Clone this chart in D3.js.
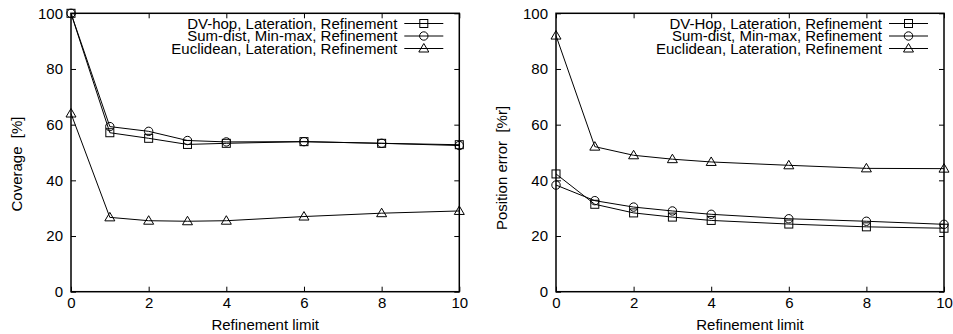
<!DOCTYPE html>
<html>
<head>
<meta charset="utf-8">
<script src="https://cdn.jsdelivr.net/npm/d3@7"></script>
<style>
  body { margin: 0; background: #fff; }
  svg text { font-family: "Liberation Sans", Arial, sans-serif; }
</style>
</head>
<body>
<div id="chart"></div>
<script>
/* DATA */
const limits = [0, 1, 2, 3, 4, 6, 8, 10];
const xTicks = [0, 2, 4, 6, 8, 10];
const yTicks = [0, 20, 40, 60, 80, 100];

// coverage [%]
const covDvhop = [100, 57.1, 55.1, 52.9, 53.3, 53.9, 53.3, 52.8];
const covSumdist = [100, 59.3, 57.6, 54.3, 53.8, 53.9, 53.3, 52.5];
const covEuclid = [64, 26.7, 25.5, 25.3, 25.5, 27.0, 28.2, 29.0];

// position error [%r]
const errDvhop = [42.3, 31.4, 28.3, 26.8, 25.6, 24.3, 23.3, 22.8];
const errSumdist = [38.3, 32.7, 30.4, 29.0, 27.8, 26.2, 25.3, 24.2];
const errEuclid = [92, 52.1, 49.0, 47.6, 46.6, 45.4, 44.3, 44.2];

const legendLeft = ["DV-hop, Lateration, Refinement", "Sum-dist, Min-max, Refinement", "Euclidean, Lateration, Refinement"];
const legendRight = ["DV-Hop, Lateration, Refinement", "Sum-dist, Min-max, Refinement", "Euclidean, Lateration, Refinement"];
const markers = ["square", "circle", "triangle"];

/* CONSTANTS */
const width = 953, height = 334;
const plotTop = 13.3, plotBottom = 291.7;

const svg = d3.select("#chart").append("svg")
  .attr("width", width)
  .attr("height", height);

function marker(g, type, x, y) {
  if (type === "square") {
    g.append("rect").attr("x", x - 4).attr("y", y - 4).attr("width", 8).attr("height", 8);
  } else if (type === "circle") {
    g.append("circle").attr("cx", x).attr("cy", y).attr("r", 4.2);
  } else {
    g.append("path").attr("d", `M${x},${y - 5}L${x + 5},${y + 3.5}L${x - 5},${y + 3.5}Z`);
  }
}

function panel(left, right, series, legend, ylabel, ylabelY) {
  const x = d3.scaleLinear().domain([0, 10]).range([left, right]);
  const y = d3.scaleLinear().domain([0, 100]).range([plotBottom, plotTop]);
  const g = svg.append("g");

  // axes with inward ticks on all four sides
  const ax = [
    [d3.axisBottom(x).tickValues(xTicks).tickSize(-5).tickPadding(6), `translate(0,${plotBottom})`],
    [d3.axisTop(x).tickValues(xTicks).tickSize(-5).tickFormat(""), `translate(0,${plotTop})`],
    [d3.axisLeft(y).tickValues(yTicks).tickSize(-5).tickPadding(8), `translate(${left},0)`],
    [d3.axisRight(y).tickValues(yTicks).tickSize(-5).tickFormat(""), `translate(${right},0)`]
  ];
  ax.forEach(([axis, tr]) => {
    const a = g.append("g").attr("transform", tr).call(axis.tickSizeOuter(0));
    a.select(".domain").remove();
    a.selectAll("line").attr("stroke", "#000").attr("stroke-width", 1);
    a.selectAll("text").attr("font-size", 15).attr("fill", "#000")
      .attr("font-family", "Liberation Sans, Arial, sans-serif");
  });

  g.append("rect")
    .attr("x", left).attr("y", plotTop)
    .attr("width", right - left).attr("height", plotBottom - plotTop)
    .attr("fill", "none").attr("stroke", "#000").attr("stroke-width", 1.5);

  const line = d3.line().x((d, i) => x(limits[i])).y(d => y(d));

  series.forEach((vals, k) => {
    g.append("path").datum(vals)
      .attr("d", line)
      .attr("fill", "none").attr("stroke", "#000").attr("stroke-width", 1);
    const mg = g.append("g").attr("fill", "none").attr("stroke", "#000").attr("stroke-width", 1);
    vals.forEach((v, i) => marker(mg, markers[k], x(limits[i]), y(v)));
  });

  // legend
  const rowY = [23.5, 36, 48.5];
  legend.forEach((t, k) => {
    g.append("text")
      .attr("x", right - 62).attr("y", rowY[k])
      .attr("dy", "0.35em")
      .attr("text-anchor", "end")
      .attr("font-size", 15)
      .text(t);
    g.append("line")
      .attr("x1", right - 55).attr("x2", right - 16)
      .attr("y1", rowY[k]).attr("y2", rowY[k])
      .attr("stroke", "#000").attr("stroke-width", 1);
    const mg = g.append("g").attr("fill", "none").attr("stroke", "#000").attr("stroke-width", 1);
    marker(mg, markers[k], right - 35.5, rowY[k]);
  });

  // axis labels
  g.append("text")
    .attr("x", (left + right) / 2).attr("y", 330)
    .attr("text-anchor", "middle")
    .attr("font-size", 15)
    .text("Refinement limit");

  g.append("text")
    .attr("transform", `translate(${left - 54},${ylabelY}) rotate(-90)`)
    .attr("text-anchor", "middle")
    .attr("dy", "0.35em")
    .attr("font-size", 15)
    .style("white-space", "pre")
    .text(ylabel);
}

panel(71, 459.3, [covDvhop, covSumdist, covEuclid], legendLeft, "Coverage  [%]", 164);
panel(556, 944, [errDvhop, errSumdist, errEuclid], legendRight, "Position error  [%r]", 168);
</script>
</body>
</html>
